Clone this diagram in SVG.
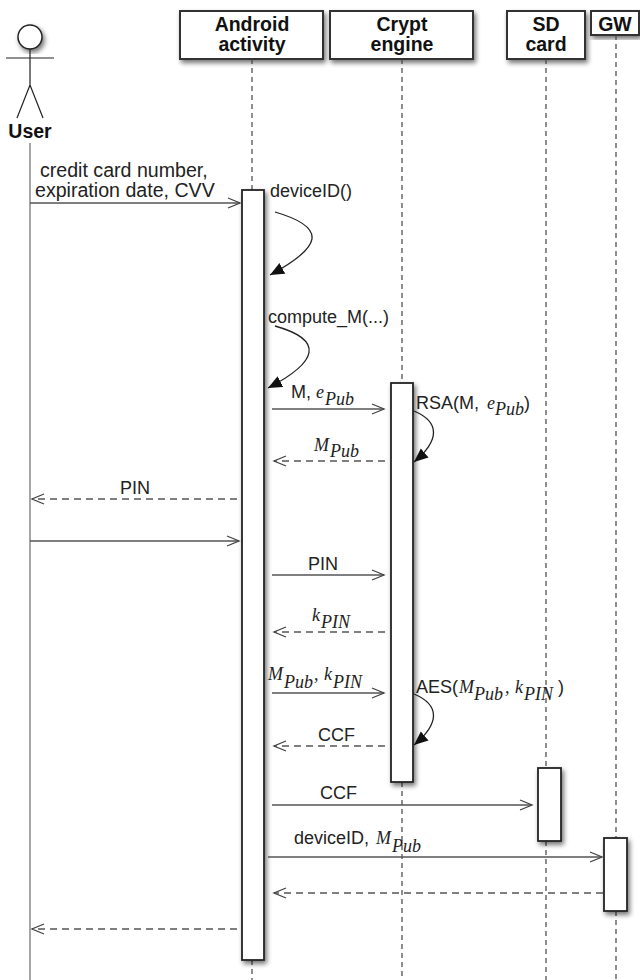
<svg xmlns="http://www.w3.org/2000/svg" width="640" height="980" viewBox="0 0 640 980">
<defs>
<style>
.hdr{font-family:"Liberation Sans",Arial,sans-serif;font-weight:bold;font-size:19.5px;fill:#111;text-anchor:middle}
.lbl{font-family:"Liberation Sans",Arial,sans-serif;font-size:18px;fill:#222}
.big{font-size:19.6px}
.m{font-family:"Liberation Serif","Times New Roman",serif;font-style:italic;font-size:18px;fill:#222}
.box{fill:#fff;stroke:#333;stroke-width:2}
.bar{fill:#fff;stroke:#222;stroke-width:1.8}
.life{stroke:#444;stroke-width:1.2;stroke-dasharray:5 4;fill:none}
.msg{stroke:#555;stroke-width:1.3;fill:none;marker-end:url(#open)}
.ret{stroke:#555;stroke-width:1.3;fill:none;stroke-dasharray:7 5;marker-end:url(#open)}
.self{stroke:#222;stroke-width:1.3;fill:none;marker-end:url(#filled)}
</style>
<marker id="open" markerWidth="16" markerHeight="14" refX="13" refY="6" orient="auto" markerUnits="userSpaceOnUse">
<path d="M1,1 L13,6 L1,11" fill="none" stroke="#444" stroke-width="1.3"/>
</marker>
<marker id="filled" markerWidth="16" markerHeight="14" refX="14" refY="6" orient="auto" markerUnits="userSpaceOnUse">
<path d="M0,0 L14,6 L0,12 z" fill="#111"/>
</marker>
<filter id="sh" x="-40%" y="-20%" width="180%" height="140%">
<feGaussianBlur in="SourceAlpha" stdDeviation="2.5"/>
<feOffset dx="2" dy="3" result="b"/>
<feComponentTransfer><feFuncA type="linear" slope="0.55"/></feComponentTransfer>
<feMerge><feMergeNode/><feMergeNode in="SourceGraphic"/></feMerge>
</filter>
</defs>
<rect width="640" height="980" fill="#fff"/>

<g id="user">
<circle cx="30" cy="37" r="12" fill="#fff" stroke="#222" stroke-width="1.5" filter="url(#sh)"/>
<path d="M30,49 L30,85 M6,58 L54,58 M30,85 L17,118 M30,85 L43,118" stroke="#222" stroke-width="1.2" fill="none"/>
<text class="hdr" x="30" y="138">User</text>
<line x1="30" y1="143" x2="30" y2="980" stroke="#777" stroke-width="1.3"/>
</g>

<g id="android">
<rect class="box" x="180" y="11" width="143" height="48" filter="url(#sh)"/>
<text class="hdr" x="252" y="31">Android</text>
<text class="hdr" x="252" y="51">activity</text>
<line class="life" x1="252" y1="59" x2="252" y2="190"/>
<line class="life" x1="252" y1="960" x2="252" y2="980"/>
<rect class="bar" x="242" y="190" width="22" height="770" filter="url(#sh)"/>
</g>

<g id="crypt">
<rect class="box" x="330" y="11" width="143" height="48" filter="url(#sh)"/>
<text class="hdr" x="402" y="31">Crypt</text>
<text class="hdr" x="402" y="51">engine</text>
<line class="life" x1="402" y1="59" x2="402" y2="383"/>
<line class="life" x1="402" y1="782" x2="402" y2="980"/>
<rect class="bar" x="391" y="383" width="22" height="399" filter="url(#sh)"/>
</g>

<g id="sdcard">
<rect class="box" x="507" y="11" width="78" height="48" filter="url(#sh)"/>
<text class="hdr" x="546" y="31">SD</text>
<text class="hdr" x="546" y="51">card</text>
<line class="life" x1="546" y1="59" x2="546" y2="768"/>
<line class="life" x1="546" y1="841" x2="546" y2="980"/>
<rect class="bar" x="538" y="768" width="23" height="73" filter="url(#sh)"/>
</g>

<g id="gw">
<rect class="box" x="591" y="11" width="48" height="24" filter="url(#sh)"/>
<text class="hdr" x="615" y="31">GW</text>
<line class="life" x1="616" y1="35" x2="616" y2="838"/>
<line class="life" x1="616" y1="911" x2="616" y2="980"/>
<rect class="bar" x="604" y="838" width="23" height="73" filter="url(#sh)"/>
</g>

<g id="connectors">
<line class="msg" x1="30" y1="203" x2="240" y2="203"/>
<path class="self" d="M275,212 C330,228 320,248 270,275"/>
<path class="self" d="M275,326 C325,340 318,362 268,388"/>
<line class="msg" x1="272" y1="409" x2="384" y2="409"/>
<path class="self" d="M414,411 C440,422 440,440 414,462"/>
<line class="ret" x1="385" y1="461" x2="274" y2="461"/>
<line class="ret" x1="237" y1="499" x2="32" y2="499"/>
<line class="msg" x1="30" y1="541" x2="239" y2="541"/>
<line class="msg" x1="272" y1="575" x2="384" y2="575"/>
<line class="ret" x1="385" y1="632" x2="274" y2="632"/>
<line class="msg" x1="272" y1="693" x2="384" y2="693"/>
<path class="self" d="M414,694 C440,705 440,723 414,745"/>
<line class="ret" x1="385" y1="746" x2="274" y2="746"/>
<line class="msg" x1="272" y1="805" x2="532" y2="805"/>
<line class="msg" x1="268" y1="857" x2="602" y2="857"/>
<line class="ret" x1="603" y1="893" x2="274" y2="893"/>
<line class="ret" x1="237" y1="929" x2="32" y2="929"/>
</g>

<g id="labels">
<text class="lbl big" x="40" y="177">credit card number,</text>
<text class="lbl big" x="35" y="197">expiration date, CVV</text>
<text class="lbl" x="270" y="197">deviceID()</text>
<text class="lbl" x="268" y="323">compute_M(...)</text>
<text class="lbl" x="291" y="398">M, <tspan class="m" x="316">e</tspan><tspan class="m" x="325" y="405">Pub</tspan></text>
<text class="lbl" x="416" y="409">RSA(M, <tspan class="m" x="487">e</tspan><tspan class="m" x="495" y="415">Pub</tspan><tspan x="524" y="409">)</tspan></text>
<text class="m" x="314" y="451">M<tspan x="330" y="457">Pub</tspan></text>
<text class="lbl" x="120" y="494">PIN</text>
<text class="lbl" x="308" y="570">PIN</text>
<text class="m" x="312" y="621">k<tspan x="321" y="628">PIN</tspan></text>
<text class="m" x="268" y="680">M<tspan x="284" y="688">Pub</tspan><tspan x="314" y="680">, </tspan><tspan x="324" y="680">k</tspan><tspan x="333" y="688">PIN</tspan></text>
<text class="lbl" x="416" y="693">AES(<tspan class="m" x="459">M</tspan><tspan class="m" x="474" y="700">Pub</tspan><tspan class="m" x="505" y="693">, </tspan><tspan class="m" x="515" y="693">k</tspan><tspan class="m" x="524" y="700">PIN</tspan><tspan x="558" y="693">)</tspan></text>
<text class="lbl" x="318" y="741">CCF</text>
<text class="lbl" x="320" y="799">CCF</text>
<text class="lbl" x="294" y="844">deviceID, <tspan class="m" x="376">M</tspan><tspan class="m" x="392" y="852">Pub</tspan></text>
</g>
</svg>
